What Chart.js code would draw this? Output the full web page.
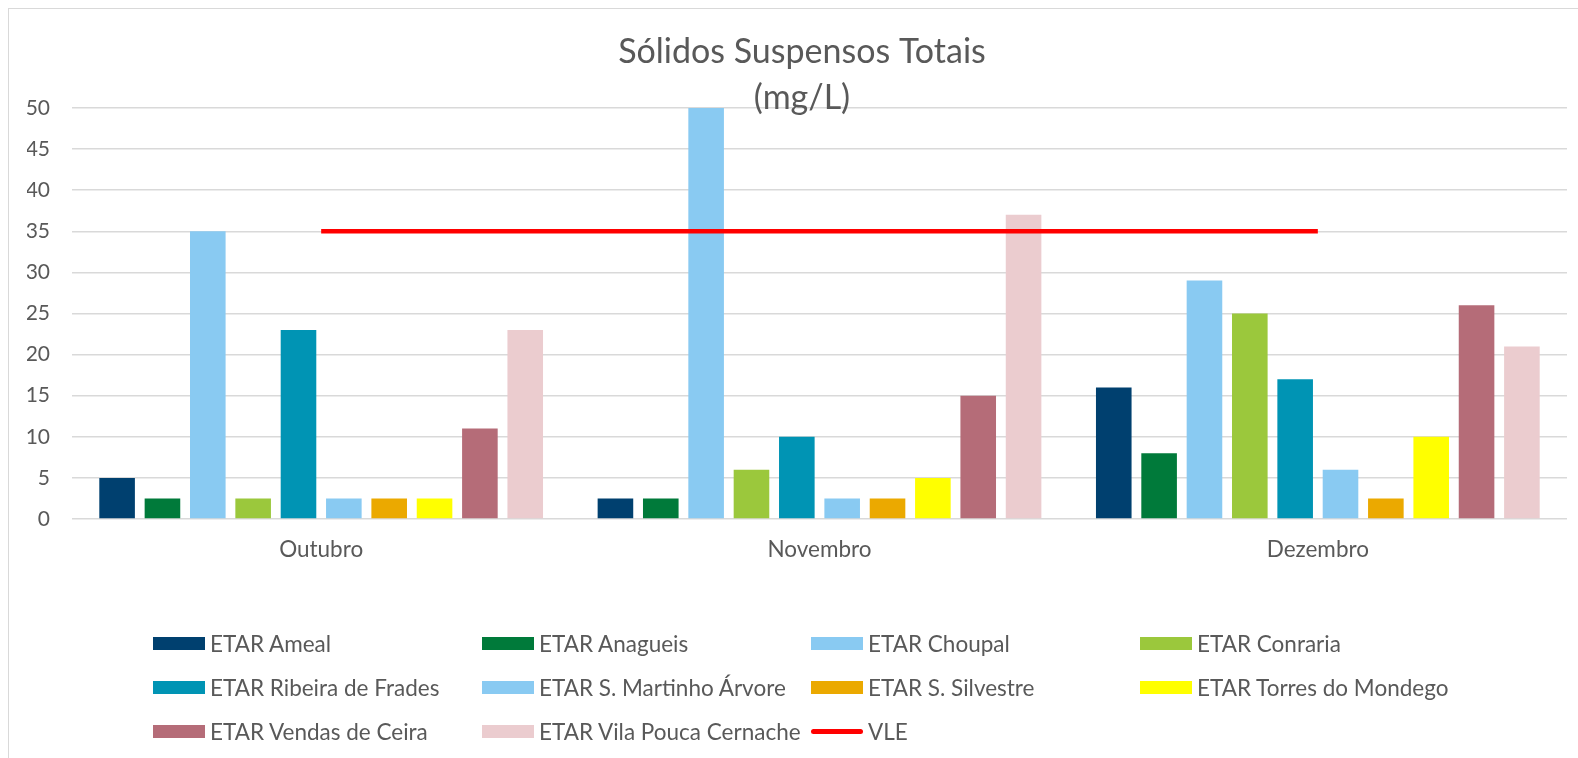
<!DOCTYPE html>
<html>
<head>
<meta charset="utf-8">
<script src="https://cdn.jsdelivr.net/npm/chart.js@4"></script>
<style>
  html, body { margin: 0; padding: 0; background: #fff; }
  #wrap { position: relative; width: 1578px; height: 758px; overflow: hidden; font-family: Lato, sans-serif; }
  #frame { position: absolute; left: 8px; top: 8px; width: 1600px; height: 800px; border-left: 1.5px solid #d9d9d9; border-top: 1.5px solid #d9d9d9; }
  #c { position: absolute; left: 0; top: 0; }
  #legend { position: absolute; left: 153px; top: 621px; display: grid; grid-template-columns: repeat(4, 329px); grid-auto-rows: 44px; }
  .item { display: flex; align-items: center; color: #595959; font-size: 22.5px; white-space: nowrap; }
  .box { width: 52px; height: 13px; margin-right: 5px; flex: none; }
  .ln { width: 52px; height: 5px; border-radius: 3px; margin-right: 5px; flex: none; }
</style>
</head>
<body>
<div id="wrap">
  <div id="frame"></div>
  <canvas id="c" width="1578" height="758"></canvas>
  <div id="legend"></div>
</div>
<script>
const categories = ['Outubro', 'Novembro', 'Dezembro'];

const seriesNames = [
  'ETAR Ameal', 'ETAR Anagueis', 'ETAR Choupal', 'ETAR Conraria', 'ETAR Ribeira de Frades',
  'ETAR S. Martinho Árvore', 'ETAR S. Silvestre', 'ETAR Torres do Mondego', 'ETAR Vendas de Ceira',
  'ETAR Vila Pouca Cernache'
];
const seriesColors = [
  '#00406F', '#007A3A', '#89CAF2', '#9BC83C', '#0094B4',
  '#89CAF2', '#EBA900', '#FFFF00', '#B56C78', '#EBCCCF'
];

// values per series: Outubro, Novembro, Dezembro
const ameal = [5, 2.5, 16];
const anagueis = [2.5, 2.5, 8];
const choupal = [35, 50, 29];
const conraria = [2.5, 6, 25];
const ribeiraFrades = [23, 10, 17];
const sMartinho = [2.5, 2.5, 6];
const sSilvestre = [2.5, 2.5, 2.5];
const torresMondego = [2.5, 5, 10];
const vendasCeira = [11, 15, 26];
const vilaPouca = [23, 37, 21];
const vle = [35, 35, 35];

const yTicks = [0, 5, 10, 15, 20, 25, 30, 35, 40, 45, 50];

const seriesValues = [ameal, anagueis, choupal, conraria, ribeiraFrades, sMartinho, sSilvestre, torresMondego, vendasCeira, vilaPouca];

const textColor = '#595959';

const datasets = seriesNames.map((name, i) => ({
  type: 'bar',
  label: name,
  data: seriesValues[i],
  backgroundColor: seriesColors[i],
  borderWidth: 0,
  categoryPercentage: 0.91,
  barPercentage: 0.785,
  order: 1
}));
datasets.push({
  type: 'line',
  label: 'VLE',
  data: vle,
  borderColor: '#FF0000',
  backgroundColor: '#FF0000',
  borderWidth: 4.5,
  pointRadius: 0,
  order: 0
});

const titlePlugin = {
  id: 'twoLineTitle',
  afterDraw(chart) {
    const ctx = chart.ctx;
    ctx.save();
    ctx.fillStyle = textColor;
    ctx.font = '34px Lato';
    ctx.textAlign = 'center';
    ctx.textBaseline = 'alphabetic';
    ctx.fillText('Sólidos Suspensos Totais', 802, 63);
    ctx.fillText('(mg/L)', 802, 109);
    ctx.restore();
  }
};

new Chart(document.getElementById('c'), {
  data: { labels: categories, datasets: datasets },
  options: {
    responsive: false,
    animation: false,
    layout: { padding: { left: 27, right: 11, top: 108, bottom: 179 } },
    plugins: {
      legend: { display: false },
      title: { display: false },
      tooltip: { enabled: false }
    },
    scales: {
      x: {
        grid: { display: false, drawTicks: false },
        border: { display: false },
        ticks: { color: textColor, font: { family: 'Lato', size: 22.5 }, padding: 17 },
        afterFit: (s) => { s.height = 60; }
      },
      y: {
        min: 0,
        max: 50,
        afterBuildTicks: (s) => { s.ticks = yTicks.map(v => ({ value: v })); },
        grid: { color: '#d9d9d9', lineWidth: 1.5, drawTicks: false },
        border: { display: false },
        ticks: { color: textColor, font: { family: 'Lato', size: 21 }, padding: 22 },
        afterFit: (s) => { s.width = 45; }
      }
    }
  },
  plugins: [titlePlugin]
});

// legend in a 4-column grid
const legend = document.getElementById('legend');
datasets.forEach(ds => {
  const item = document.createElement('div');
  item.className = 'item';
  const mark = document.createElement('span');
  if (ds.type === 'line') {
    mark.className = 'ln';
    mark.style.background = ds.borderColor;
  } else {
    mark.className = 'box';
    mark.style.background = ds.backgroundColor;
  }
  item.appendChild(mark);
  item.appendChild(document.createTextNode(ds.label));
  legend.appendChild(item);
});
</script>
</body>
</html>
